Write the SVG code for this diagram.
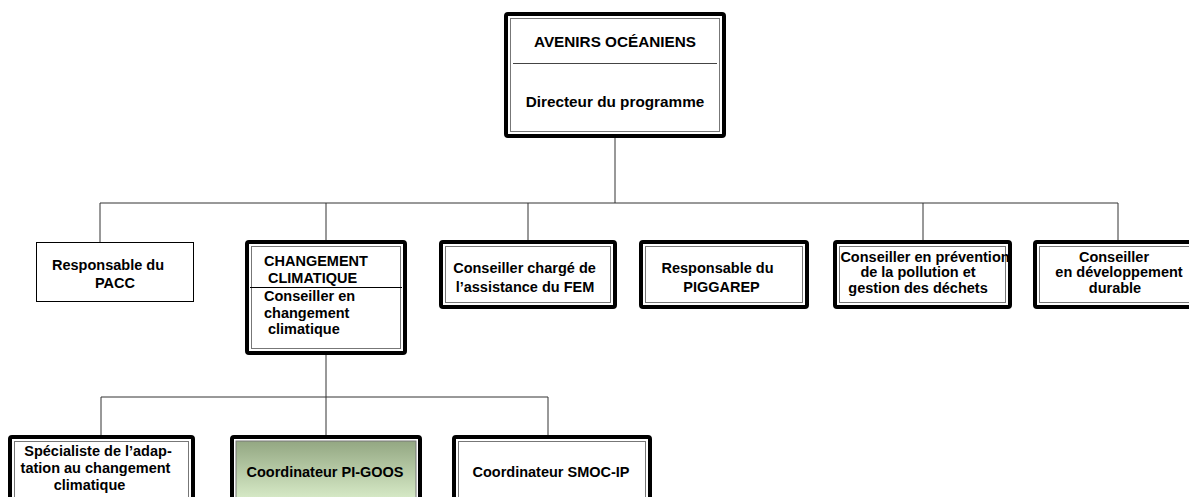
<svg xmlns="http://www.w3.org/2000/svg" width="1189" height="497" viewBox="0 0 1189 497">
<style>
.o{fill:#fff;stroke:#000;stroke-width:4}
.i{fill:none;stroke:#777;stroke-width:1}
.s{fill:#fff;stroke:#000;stroke-width:1}
.c{fill:none;stroke:#333;stroke-width:1}
text{font-family:"Liberation Sans",Arial,sans-serif;font-weight:bold;font-size:14.5px;fill:#000}
.m{text-anchor:middle}
.t{font-size:15.3px}
</style>
<defs>
<linearGradient id="g" x1="0" y1="0" x2="0" y2="1">
<stop offset="0" stop-color="#93a782"/>
<stop offset="1" stop-color="#dcefcc"/>
</linearGradient>
</defs>
<rect width="1189" height="497" fill="#fff"/>
<g id="connectors">
<path class="c" d="M615 138V203M100 203H1118M100 203V242M326 203V240M528 203V240M923 203V240M1118 203V240"/>
<path class="c" d="M326 355V435M101 397H548M101 397V435M548 397V435"/>
</g>
<g id="n-top">
<rect class="o" x="506" y="14" width="218" height="122" rx="2"/>
<rect class="i" x="510.5" y="18.5" width="209" height="113"/>
<path d="M513 63.5H717" stroke="#444" stroke-width="1"/>
<text class="m t" x="615" y="47">AVENIRS OCÉANIENS</text>
<text class="m t" x="615" y="107">Directeur du programme</text>
</g>
<g id="n-pacc">
<rect class="s" x="36.5" y="242.5" width="157" height="59"/>
<text class="m" x="108" y="270">Responsable du</text>
<text class="m" x="115" y="288">PACC</text>
</g>
<g id="n-cc">
<rect class="o" x="247" y="242" width="158" height="111" rx="2"/>
<rect class="i" x="251.5" y="246.5" width="149" height="102"/>
<path d="M250 287.5H402" stroke="#000" stroke-width="1"/>
<text x="264" y="266">CHANGEMENT</text>
<text x="268" y="283">CLIMATIQUE</text>
<text x="264" y="301">Conseiller en</text>
<text x="264" y="318">changement</text>
<text x="268" y="334">climatique</text>
</g>
<g id="n-fem">
<rect class="o" x="441" y="242" width="174" height="65" rx="2"/>
<rect class="i" x="445.5" y="246.5" width="165" height="56"/>
<text class="m" x="524.5" y="273">Conseiller chargé de</text>
<text class="m" x="525" y="292">l’assistance du FEM</text>
</g>
<g id="n-piggarep">
<rect class="o" x="641" y="242" width="166" height="65" rx="2"/>
<rect class="i" x="645.5" y="246.5" width="157" height="56"/>
<text class="m" x="717.5" y="273">Responsable du</text>
<text class="m" x="721.5" y="292">PIGGAREP</text>
</g>
<g id="n-pollution">
<rect class="o" x="835" y="242" width="175" height="65" rx="2"/>
<rect class="i" x="839.5" y="246.5" width="166" height="56"/>
<text class="m" x="925" y="262">Conseiller en prévention</text>
<text class="m" x="918" y="277">de la pollution et</text>
<text class="m" x="918" y="293">gestion des déchets</text>
</g>
<g id="n-durable">
<rect class="o" x="1035" y="242" width="160" height="65" rx="2"/>
<rect class="i" x="1039.5" y="246.5" width="151" height="56"/>
<text class="m" x="1114" y="262">Conseiller</text>
<text class="m" x="1119" y="277">en développement</text>
<text class="m" x="1115" y="293">durable</text>
</g>
<g id="n-spec">
<rect class="o" x="10" y="437" width="183" height="70" rx="2"/>
<rect class="i" x="14.5" y="441.5" width="174" height="61"/>
<text class="m" x="98" y="456">Spécialiste de l’adap-</text>
<text class="m" x="95.5" y="473">tation au changement</text>
<text class="m" x="89.5" y="490">climatique</text>
</g>
<g id="n-pigoos">
<rect class="o" x="232" y="437" width="188" height="70" rx="2"/>
<rect x="236" y="441" width="180" height="62" fill="url(#g)" stroke="#777" stroke-width="1"/>
<text class="m" x="325" y="477">Coordinateur PI-GOOS</text>
</g>
<g id="n-smoc">
<rect class="o" x="454" y="437" width="196" height="70" rx="2"/>
<rect class="i" x="458.5" y="441.5" width="187" height="61"/>
<text class="m" x="551" y="477">Coordinateur SMOC-IP</text>
</g>
</svg>
